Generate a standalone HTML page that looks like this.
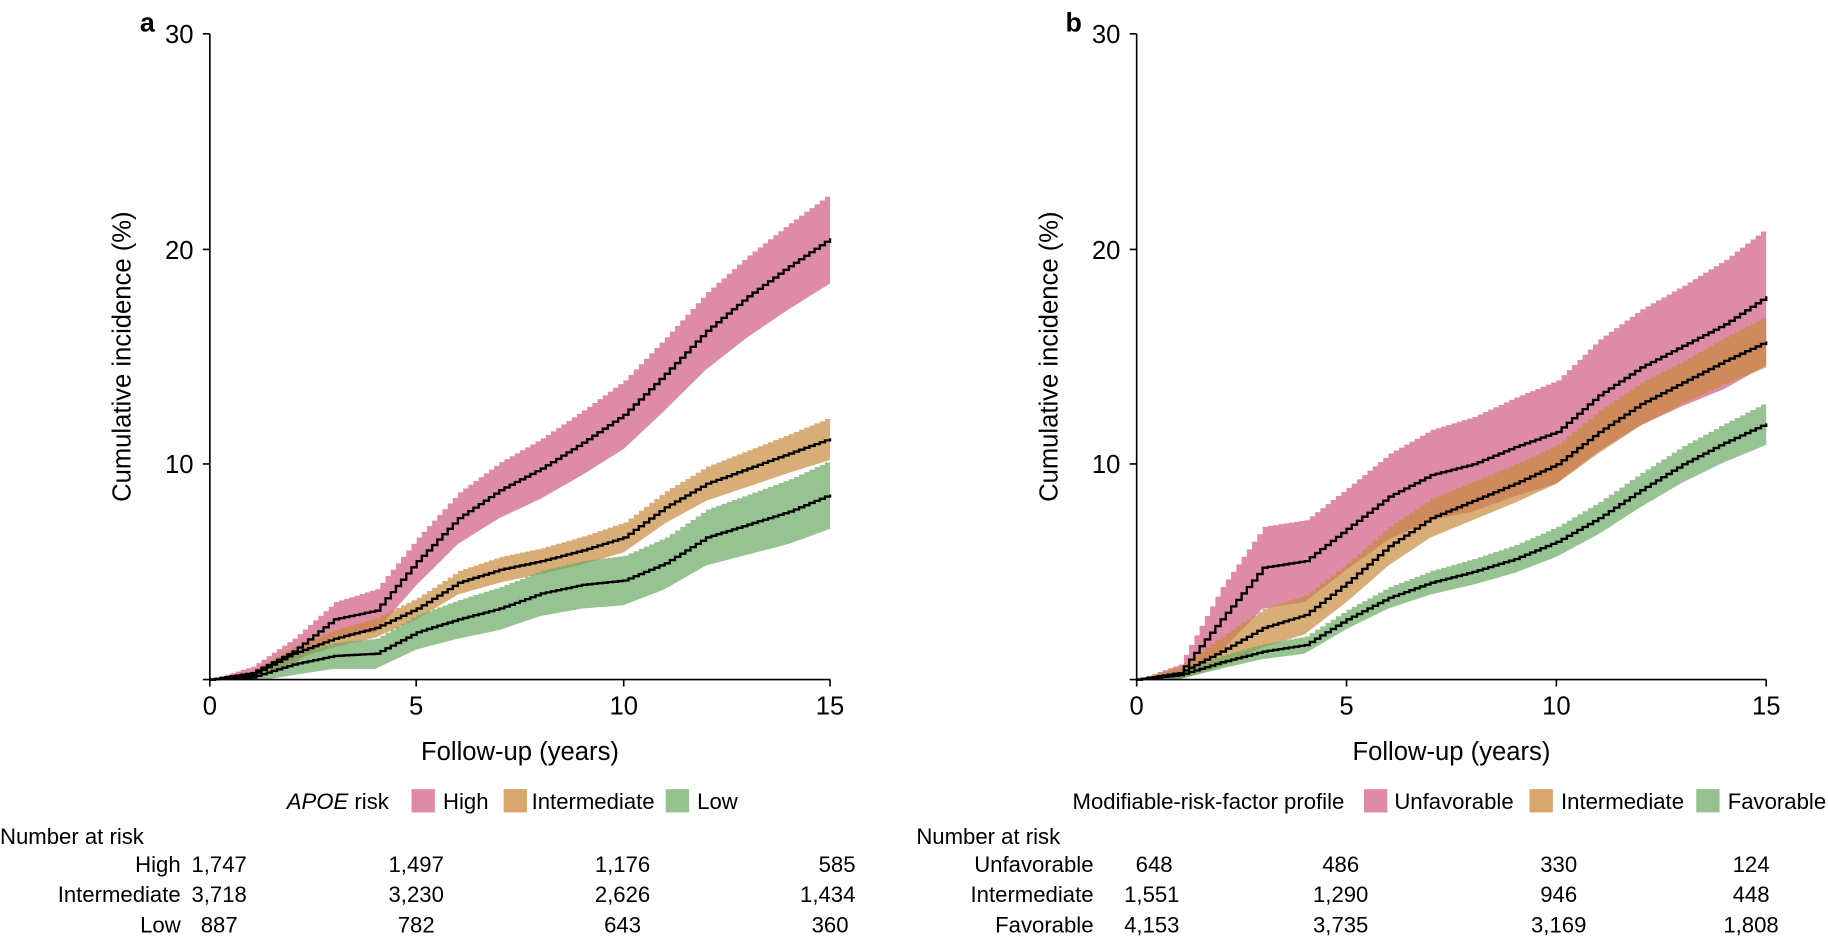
<!DOCTYPE html>
<html><head><meta charset="utf-8"><style>
body{margin:0;background:#fff;width:1828px;height:936px;overflow:hidden;font-family:"Liberation Sans",Arial,sans-serif}
svg{display:block}
svg text{font-family:"Liberation Sans",Arial,sans-serif;fill:#000}
</style></head><body>
<svg id="s" width="1828" height="936" viewBox="0 0 1568 803" preserveAspectRatio="none" xmlns="http://www.w3.org/2000/svg">
<g id="plots"></g>
<g stroke="#000" stroke-width="1.4" fill="none">
<path d="M180,29V583H712M180,29h-6M180,214h-6M180,398h-6M180,583h-6M180,583v6M357,583v6M535,583v6M712,583v6"/>
<path d="M975,29V583H1515M975,29h-6M975,214h-6M975,398h-6M975,583h-6M975,583v6M1155,583v6M1335,583v6M1515,583v6"/>
</g>
<g font-size="22">
<text x="120" y="27" font-weight="bold" font-size="23">a</text>
<text x="914" y="27" font-weight="bold" font-size="23">b</text>
<g text-anchor="end"><text x="166" y="37">30</text><text x="166" y="222">20</text><text x="166" y="406">10</text>
<text x="961" y="37">30</text><text x="961" y="222">20</text><text x="961" y="406">10</text></g>
<g text-anchor="middle"><text x="180" y="613">0</text><text x="357" y="613">5</text><text x="535" y="613">10</text><text x="712" y="613">15</text>
<text x="975" y="613">0</text><text x="1155" y="613">5</text><text x="1335" y="613">10</text><text x="1515" y="613">15</text>
<text x="446" y="652">Follow-up (years)</text><text x="1245" y="652">Follow-up (years)</text>
<text transform="translate(112,306) rotate(-90)">Cumulative incidence (%)</text>
<text transform="translate(907,306) rotate(-90)">Cumulative incidence (%)</text></g>
</g>
<g font-size="19">
<text x="246" y="694"><tspan font-style="italic">APOE</tspan> risk</text>
<rect x="353" y="677" width="20" height="20" fill="#dd8ba6"/><text x="380" y="694">High</text>
<rect x="432" y="677" width="20" height="20" fill="#d8a66c"/><text x="456" y="694">Intermediate</text>
<rect x="571" y="677" width="20" height="20" fill="#97c28f"/><text x="598" y="694">Low</text>
<text x="920" y="694">Modifiable-risk-factor profile</text>
<rect x="1170" y="677" width="20" height="20" fill="#dd8ba6"/><text x="1196" y="694">Unfavorable</text>
<rect x="1312" y="677" width="20" height="20" fill="#d8a66c"/><text x="1339" y="694">Intermediate</text>
<rect x="1455" y="677" width="20" height="20" fill="#97c28f"/><text x="1482" y="694">Favorable</text>
<text x="0" y="724">Number at risk</text>
<text x="786" y="724">Number at risk</text>
<g text-anchor="end"><text x="155" y="748">High</text><text x="155" y="774">Intermediate</text><text x="155" y="800">Low</text>
<text x="938" y="748">Unfavorable</text><text x="938" y="774">Intermediate</text><text x="938" y="800">Favorable</text></g>
<g text-anchor="middle">
<text x="188" y="748">1,747</text><text x="357" y="748">1,497</text><text x="534" y="748">1,176</text><text x="718" y="748">585</text>
<text x="188" y="774">3,718</text><text x="357" y="774">3,230</text><text x="534" y="774">2,626</text><text x="710" y="774">1,434</text>
<text x="188" y="800">887</text><text x="357" y="800">782</text><text x="534" y="800">643</text><text x="712" y="800">360</text>
<text x="990" y="748">648</text><text x="1150" y="748">486</text><text x="1337" y="748">330</text><text x="1502" y="748">124</text>
<text x="988" y="774">1,551</text><text x="1150" y="774">1,290</text><text x="1337" y="774">946</text><text x="1502" y="774">448</text>
<text x="988" y="800">4,153</text><text x="1150" y="800">3,735</text><text x="1337" y="800">3,169</text><text x="1502" y="800">1,808</text>
</g></g>
</svg>
<script>
var series=[
 {x0:180,sx:35.47,c:"#cf5a80",m:[0,0.3,1.3,2.8,3.2,5.5,7.5,8.8,9.8,11,12.3,14.2,16.2,17.8,19.2,20.5],w:[0,0.3,0.6,0.8,1,1.1,1.2,1.3,1.4,1.5,1.6,1.7,1.8,1.9,2,2.1]},
 {x0:180,sx:35.47,c:"#c98a3d",m:[0,0.2,1.2,1.9,2.4,3.3,4.5,5.1,5.5,6,6.6,8,9.1,9.8,10.5,11.2],w:[0,0.2,0.3,0.4,0.45,0.5,0.55,0.6,0.6,0.65,0.7,0.75,0.8,0.85,0.9,1]},
 {x0:180,sx:35.47,c:"#6aaa62",m:[0,0.1,0.7,1.1,1.2,2.2,2.8,3.3,4,4.4,4.6,5.4,6.6,7.2,7.8,8.6],w:[0,0.2,0.5,0.6,0.7,0.8,0.9,1,1.05,1.1,1.15,1.2,1.3,1.4,1.5,1.6]},
 {x0:975,sx:36,c:"#cf5a80",m:[0,0.3,2.8,5.2,5.5,7,8.5,9.5,10,10.8,11.5,13.2,14.5,15.5,16.5,17.8],w:[0,0.4,1.5,1.9,1.9,1.9,2,2.1,2.2,2.3,2.4,2.6,2.7,2.8,3,3.2]},
 {x0:975,sx:36,c:"#c98a3d",m:[0,0.3,1.3,2.4,3,4.5,6.2,7.5,8.3,9.1,10,11.5,12.8,13.8,14.8,15.7],w:[0,0.3,0.7,0.9,0.9,0.9,0.9,0.9,0.9,0.9,0.9,1,1,1,1.1,1.2]},
 {x0:975,sx:36,c:"#6aaa62",m:[0,0.2,0.8,1.3,1.6,2.8,3.8,4.5,5,5.6,6.4,7.5,8.8,10,11,11.9],w:[0,0.2,0.3,0.35,0.4,0.45,0.5,0.55,0.6,0.65,0.7,0.75,0.8,0.85,0.9,1]}];
function interp(a,t){var i=Math.min(14,Math.floor(t));var f=t-i;return a[i]+(a[i+1]-a[i])*f;}
var g=document.getElementById("plots"),bands="",lines="";
series.forEach(function(s){
 var N=120,up=[],lo=[],md=[];
 for(var k=0;k<=N;k++){var t=15*k/N;var m=interp(s.m,t),w=interp(s.w,t);
  var x=s.x0+t*s.sx;md.push([x,583-m*18.47]);up.push([x,583-(m+w)*18.47]);lo.push([x,583-Math.max(0,m-w)*18.47]);}
 function step(p){var d="M"+p[0][0].toFixed(1)+","+p[0][1].toFixed(1);for(var i=1;i<p.length;i++){d+="H"+p[i][0].toFixed(1)+"V"+p[i][1].toFixed(1);}return d;}
 var d=step(up);for(var i=lo.length-1;i>=0;i--){d+="L"+lo[i][0].toFixed(1)+","+lo[i][1].toFixed(1);}d+="Z";
 bands+='<path d="'+d+'" fill="'+s.c+'" fill-opacity="0.7"/>';
 lines+='<path d="'+step(md)+'" fill="none" stroke="#000" stroke-width="2"/>';
});
g.innerHTML=bands+lines;
</script>
</body></html>
